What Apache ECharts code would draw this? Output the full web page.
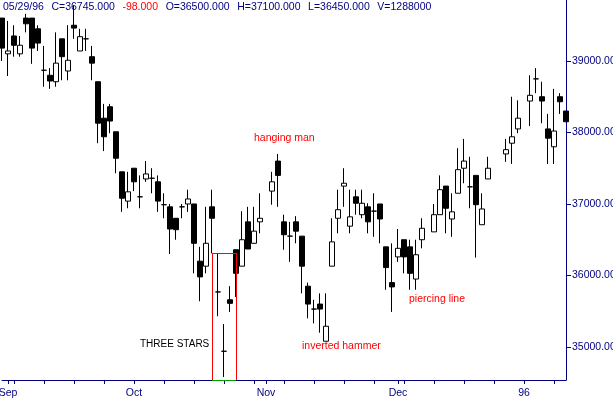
<!DOCTYPE html>
<html>
<head>
<meta charset="utf-8">
<script src="https://cdn.jsdelivr.net/npm/echarts@6/dist/echarts.min.js"></script>
<style>
html, body { margin: 0; padding: 0; background: #fff; }
#chart { width: 613px; height: 399px; }
</style>
</head>
<body>
<div id="chart"></div>
<script>
// daily bars, one slot per weekday from 31 Aug 1995, null = no trading
var opens = [
    39600, 39100, 39350, 39100, 39600, 39600, 39450, 38870, 38800, 38710,
    39310, 38860, 39500, 39140, 39310, 39060, 38710, 38200, 38360, 38010,
    37450, 37040, 37500, 37100, 37350, 37360, 37310, 36990, 36960, 36800,
    36960, 37000, 37000, 36200, 36130, 36960, 35770, 34940, 35660, 36360,
    36130, 36750, 36450, 36750, null,  37180, 37600, 36750, 36550, 36750,
    36550, 35850, 35530, 35600, 35080, 36130, 36800, 37250, 36690, 37100,
    36850, 36960, 36900, 37000, 36400, 35900, 36260, 36500, 36400, 35950,
    36500, null,  36610, 36850, 37250, 36790, 37150, 37500, 37240, 37400,
    36710, 37350, null,  null,  37700, 37850, 38050, null,  38440, 38750,
    38500, 38050, 37800, 38500, 38300
];
var closes = [
    39180, 39140, 39220, 39220, 39520, 39180, 39250, 38870, 38720, 38970,
    39060, 39010, 39460, 39340, 39310, 38970, 38130, 37940, 38160, 37640,
    37080, 37170, 37310, 37100, 37420, 37360, 37040, 36990, 36650, 36640,
    36960, 37070, 36450, 35980, 36450, 36800, 35770, 34940, 35610, 36030,
    36500, 36370, 36620, 36800, null,  37310, 37400, 36570, 36550, 36620,
    36130, 35600, 35530, 35530, 35290, 36470, 36920, 37290, 36820, 37010,
    37010, 36750, 36900, 36790, 36110, 35840, 36380, 36260, 36030, 36290,
    36660, null,  36850, 37200, 36940, 36890, 37480, 37600, 37240, 36990,
    36930, 37500, null,  null,  37760, 37940, 38200, null,  38520, 38750,
    38440, 37920, 38020, 38430, 38150
];
var lows = [
    39000, 38790, 39060, 39060, 39400, 38960, 39140, 38640, 38610, 38640,
    38730, 38730, 39310, 39140, 39140, 38730, 37850, 37740, 37990, 37430,
    36890, 36940, 37180, 36940, 37310, 37150, 36890, 36800, 36300, 36500,
    36800, 36890, 36030, 35640, 36030, 36310, 35430, 34580, 35490, 35700,
    36130, 36370, 36450, 36590, null,  36990, 36960, 36360, 36190, 36450,
    35750, 35400, 35330, 35200, 35080, 36130, 36590, 36960, 36590, 36850,
    36800, 36590, 36540, 36450, 35800, 35490, 36190, 36030, 35800, 35800,
    36380, null,  36610, 36850, 36590, 36540, 37150, 37290, 36940, 36250,
    36710, 37350, null,  null,  37590, 37560, 37990, null,  38090, 38550,
    38130, 37560, 37560, 38260, 38150
];
var highs = [
    39600, 39560, 39500, 39350, 39660, 39600, 39500, 39210, 38900, 39400,
    39310, 39500, 39780, 39450, 39450, 39210, 38710, 38400, 38400, 38010,
    37450, 37450, 37500, 37400, 37600, 37500, 37400, 37150, 37000, 36800,
    37000, 37200, 37000, 36400, 36960, 37200, 36300, 35320, 35850, 36360,
    36900, 36960, 36960, 37150, null,  37450, 37700, 36850, 36750, 36830,
    36550, 35900, 35660, 35750, 35750, 36800, 37200, 37500, 37200, 37200,
    37200, 37010, 37150, 37000, 36400, 36450, 36650, 36500, 36500, 36500,
    36800, null,  37000, 37400, 37250, 37150, 37780, 37910, 37660, 37400,
    37150, 37660, null,  null,  37910, 38500, 38450, null,  38800, 38900,
    38710, 38260, 38610, 38550, 38300
];

var yTicks  = [35000, 36000, 37000, 38000, 39000];
var yMin    = 34538;
var yMax    = 39853;
var months  = {'01': '96', '09': 'Sep', '10': 'Oct', '11': 'Nov', '12': 'Dec'};

// header line (last bar of the file)
var header  = ['05/29/96', 'C=36745.000', '-98.000', 'O=36500.000', 'H=37100.000', 'L=36450.000', 'V=1288000'];

// three stars box: first/last slot and top price
var boxFrom = 35;
var boxTo   = 39;
var boxTop  = 36315;

var FONT = "'Liberation Sans', Arial, sans-serif";
var FS   = 10.5;

// weekday calendar
var days = [];
var d = new Date(Date.UTC(1995, 7, 31));
while (days.length < opens.length) {
    var wd = d.getUTCDay();
    if (wd !== 0 && wd !== 6) days.push(d.toISOString().slice(0, 10));
    d.setUTCDate(d.getUTCDate() + 1);
}
function monthStart(i) {
    return i > 0 && days[i].slice(5, 7) !== days[i - 1].slice(5, 7);
}
function monday(i) {
    return new Date(days[i] + 'T00:00:00Z').getUTCDay() === 1;
}

var bars = [];
for (var i = 0; i < opens.length; i++) {
    if (opens[i] == null) bars.push(['-', '-', '-', '-']);
    else bars.push([opens[i], closes[i], lows[i], highs[i]]);
}

var headText = '{a|' + header[0] + '}';
for (var i = 1; i < header.length; i++) {
    headText += (i === 2 ? '{r|' : '{b|') + header[i] + '}';
}

var chart = echarts.init(document.getElementById('chart'));

var option = {
    backgroundColor: '#fff',
    animation: false,
    title: {
        left: 3,
        top: 2,
        padding: 0,
        text: headText,
        textStyle: {
            fontFamily: FONT,
            fontSize: FS,
            fontWeight: 'normal',
            rich: {
                a: {color: '#000080', fontFamily: FONT, fontSize: FS},
                b: {color: '#000080', fontFamily: FONT, fontSize: FS, padding: [0, 0, 0, 7.6]},
                r: {color: '#ff0000', fontFamily: FONT, fontSize: FS, padding: [0, 0, 0, 7.6]}
            }
        }
    },
    grid: {
        left: 2,
        right: 47,
        top: 0,
        bottom: 19,
        containLabel: false,
        outerBoundsMode: 'none'
    },
    xAxis: {
        type: 'category',
        data: days,
        boundaryGap: false,
        axisLine: {lineStyle: {color: '#000080', width: 1}},
        axisTick: {
            length: 4,
            interval: function (idx) { return monday(idx) || monthStart(idx); },
            lineStyle: {color: '#000080'}
        },
        axisLabel: {
            interval: function (idx) { return monthStart(idx); },
            formatter: function (v) { return months[v.slice(5, 7)]; },
            color: '#000080',
            fontFamily: FONT,
            fontSize: FS,
            margin: 8
        },
        splitLine: {show: false}
    },
    yAxis: {
        type: 'value',
        position: 'right',
        min: yMin,
        max: yMax,
        splitLine: {show: false},
        axisLine: {show: true, lineStyle: {color: '#000080', width: 1}},
        axisTick: {show: true, length: 5, customValues: yTicks, lineStyle: {color: '#000080'}},
        axisLabel: {
            customValues: yTicks,
            formatter: function (v) { return v.toFixed(3); },
            color: '#000080',
            fontFamily: FONT,
            fontSize: FS,
            margin: 6
        }
    },
    series: [{
        type: 'candlestick',
        data: bars,
        barWidth: 5,
        itemStyle: {
            color: '#fff',
            color0: '#000',
            borderColor: '#000',
            borderColor0: '#000',
            borderColorDoji: '#000',
            borderWidth: 1
        },
        markLine: {
            silent: true,
            symbol: 'none',
            animation: false,
            label: {show: false},
            lineStyle: {color: '#ff0000', width: 1, type: 'solid'},
            data: [
                [{coord: [boxFrom, boxTop]}, {coord: [boxTo, boxTop]}],
                [{coord: [boxFrom, boxTop]}, {coord: [boxFrom, yMin]}],
                [{coord: [boxTo, boxTop]}, {coord: [boxTo, yMin]}],
                [{coord: [boxFrom, yMin], lineStyle: {color: '#00a000'}}, {coord: [boxTo, yMin]}]
            ]
        }
    }],
    graphic: [
        {type: 'text', left: 254, top: 133, style: {text: 'hanging man', fill: '#ff0000', font: FS + 'px ' + FONT}},
        {type: 'text', left: 140, top: 339.5, style: {text: 'THREE STARS', fill: '#000', font: '10px ' + FONT}},
        {type: 'text', left: 302, top: 341, style: {text: 'inverted hammer', fill: '#ff0000', font: FS + 'px ' + FONT}},
        {type: 'text', left: 409, top: 293.5, style: {text: 'piercing line', fill: '#ff0000', font: FS + 'px ' + FONT}}
    ]
};

chart.setOption(option, true);
</script>
</body>
</html>
